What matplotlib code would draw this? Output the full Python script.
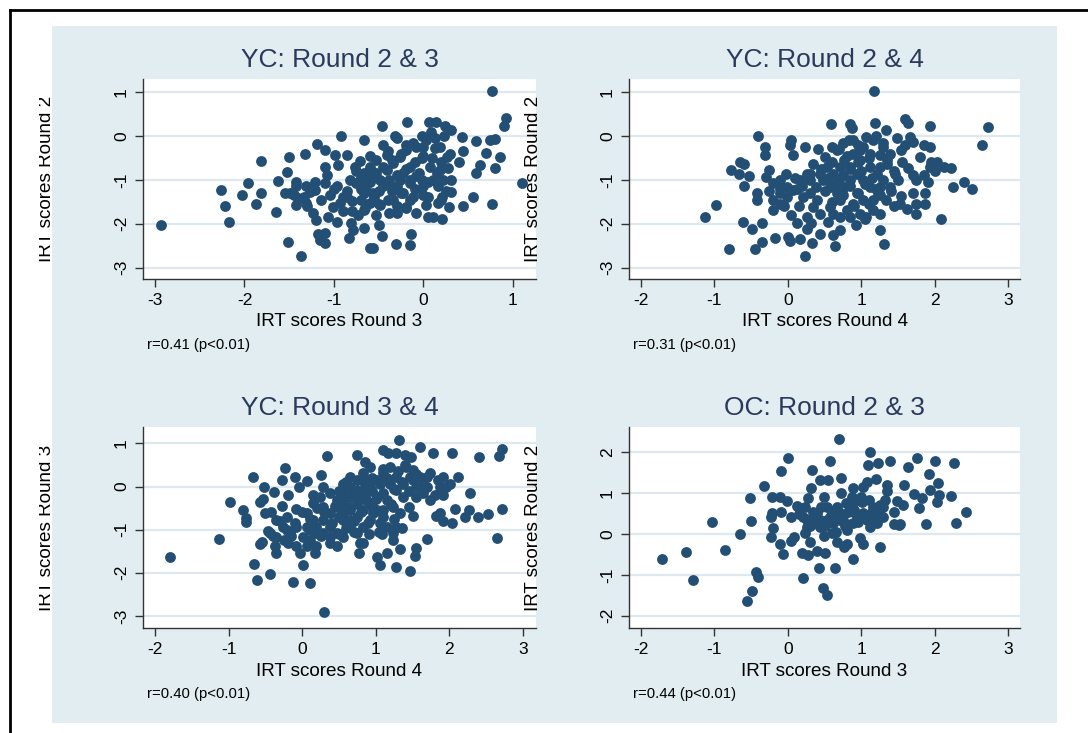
import matplotlib
matplotlib.use("Agg")
import matplotlib.pyplot as plt
from matplotlib.patches import Rectangle
from matplotlib.lines import Line2D

plt.rcParams['font.family'] = ['Liberation Sans', 'DejaVu Sans']

# ---- data ----
yc23_x = [0.77, -2.93, 1.10, 0.92, 0.90, -2.26, -2.22, -2.17, -2.03, -1.96, -1.81, -1.82, -1.87, -1.65, -1.63,
          -1.53, -1.50, -1.51, -1.37, -1.32, -1.19, -1.10, -0.92, -0.46, -0.18, 0.06, 0.14, 0.24, 0.31, 0.23,
          0.43, 0.59, 0.74, 0.80, 0.44, 0.40, 0.63, 0.59, 0.80, 0.85, 0.70, 0.55, 0.44, 0.76, 0.29,
          0.21, 0.11, 0.05, -0.14, -0.15, -0.31, -0.46, -0.50, -0.60, -0.56, -0.66, -0.79, -0.81, -0.83, -0.97,
          -1.10, -1.16, -1.10, -1.18, -1.20, -1.23, -1.07, -0.90, -0.80, -1.10, -1.08, -0.99, -0.86, -0.77, -0.71,
          -0.66, -0.45, -0.32, -0.12, -0.08, 0.03, 0.13, -0.02, 0.07, 0.18, 0.27, 0.31, 0.31, 0.21, 0.16,
          0.05, 0.03, -0.08, -0.19, -0.30, -0.38, -0.49, -0.60, -0.67, -0.73, -0.53, -1.49, -1.42, -1.34, -1.27,
          -1.42, -1.42, -1.31, -1.21, -1.55, -1.21, -1.31, -1.40, -1.05, -0.97, -0.93, -1.01, -0.86, -0.82, -0.71,
          -0.64, -0.56, -0.45, -0.38, -0.30, -0.23, -0.15, -0.08, 0.00, 0.11, 0.16, -0.12, -0.34, -0.41, -0.34,
          -0.26, -0.19, -0.15, -0.23, -0.53, -0.60, -0.53, -0.41, -0.67, -0.75, -0.67, -0.60, -0.49, -0.26, -0.19,
          -0.02, 0.22, 0.26, 0.18, 0.13, -0.02,
          -0.70, -0.60, -0.50, -0.40, -0.30, -0.20, -0.10, 0.00, -0.35, -0.25, -0.45, -0.55, -0.65, -0.75, -0.85,
          -0.90, -0.70, -0.55, -0.40, -0.25, -0.10, 0.05, 0.15, 0.20, 0.10, -0.05, -0.15, -0.35, -0.50, -0.65,
          -0.30, -0.15, 0.00, 0.25, -1.00, -1.15, -1.25, -0.95, -0.60, -0.40, -0.20, 0.00, 0.30, 0.20, -0.80,
          -1.30, -1.45, -1.10, -0.30, 0.08]
yc23_y = [1.03, -2.03, -1.06, 0.42, 0.22, -1.23, -1.59, -1.95, -1.34, -1.08, -0.57, -1.29, -1.55, -1.73, -1.03,
          -0.83, -0.47, -2.41, -2.73, -0.41, -0.19, -0.32, 0.01, 0.22, 0.31, 0.32, 0.32, 0.23, 0.14, -0.01,
          -0.03, -0.11, -0.09, -0.06, -0.34, -0.60, -0.66, -0.85, -0.73, -0.47, -0.39, -1.40, -1.59, -1.55, -1.61,
          -1.89, -1.84, -1.84, -2.24, -2.48, -2.46, -2.29, -2.03, -2.56, -2.56, -2.09, -2.14, -1.99, -2.33, -1.97,
          -2.44, -2.37, -2.22, -2.23, -1.91, -1.76, -1.84, -1.70, -1.49, -1.08, -0.89, -0.43, -0.43, -0.70, -0.58,
          -0.09, -0.20, -0.01, -0.16, -0.24, -0.09, -0.28, -0.51, -0.70, -0.77, -0.73, -1.00, -1.27, -1.38, -1.53,
          -1.38, -1.57, -1.76, -1.65, -1.76, -1.76, -1.57, -1.53, -1.68, -1.80, -1.80, -1.30, -1.57, -1.38, -1.27,
          -1.15, -1.04, -1.15, -1.04, -1.30, -1.23, -1.53, -1.42, -1.34, -1.15, -1.53, -1.61, -1.38, -1.00, -1.00,
          -1.15, -1.30, -1.15, -1.00, -1.15, -1.30, -1.08, -0.92, -1.15, -1.00, -1.15, -1.38, -1.46, -0.77, -0.62,
          -0.47, -0.32, -0.70, -0.85, -0.85, -0.70, -0.54, -0.43, -0.85, -1.08, -1.30, -1.00, -1.00, -1.00, -1.61,
          -1.00, -1.00, -0.47, -0.24, -0.05, -0.01,
          -1.20, -1.05, -1.25, -1.10, -0.90, -0.75, -0.60, -0.45, -0.55, -0.40, -0.70, -0.85, -0.95, -0.80, -1.25,
          -1.40, -1.45, -1.40, -1.45, -1.30, -1.20, -1.05, -0.85, -0.60, -0.50, -0.85, -1.00, -1.25, -1.55, -1.65,
          -1.60, -1.45, -1.35, -1.25, -1.20, -1.45, -1.20, -0.65, -0.45, -0.35, -0.20, -0.25, -0.40, -1.45, -1.70,
          -1.60, -1.35, -0.70, -0.05, 0.10]

yc24_x = [1.17, -1.13, -0.98, -0.80, -0.41, -0.31, -0.31, -0.77, -0.67, -0.65, -0.59, -0.53, -0.59, -0.61, -0.49,
          -0.44, -0.35, -0.35, -0.42, -0.42, -0.29, -0.26, -0.20, -0.18, -0.20, -0.11, -0.03, 0.04, 0.03, 0.07,
          0.01, 0.03, 0.17, 0.23, 0.33, 0.44, 0.26, 0.32, 0.26, 0.05, 0.12, 0.24, 0.41, 0.59, 0.60,
          0.62, 0.64, 0.71, 0.93, 0.85, 0.87, 0.83, 1.19, 1.34, 1.48, 1.25, 1.31, 1.59, 1.64, 1.66,
          1.71, 1.93, 1.85, 1.93, 1.80, 1.63, 1.94, 2.03, 2.12, 2.22, 2.25, 2.40, 2.51, 2.64, 2.72,
          1.75, 1.91, 1.70, 1.87, 1.75, 1.87, 1.74, 1.62, 2.08, 1.53, 1.54, 1.50, 1.46, 1.35, 1.26,
          1.12, 1.03, 0.89, 0.76, 0.67, 0.51, 0.35, 0.26, 0.17, 0.12, 0.21, 0.35, 0.44, 0.57, 0.71,
          0.80, 0.89, 0.98, 1.07, 1.16, 1.25, 1.34, 1.23, 1.12, 1.03, 0.94, 0.85, 0.76, 0.67, 0.57,
          0.48, 0.39, 0.30, 0.44, 0.53, 0.62, 0.71, 0.85, 0.98, 1.12, 1.21, 1.30, 1.39, 1.16, 1.30,
          1.39, 1.07, 0.30, -0.01, -0.11, -0.20, 0.07, -0.01, -0.11, 0.62, 0.71, 0.85, 0.94, 1.03, 1.16,
          1.25, 1.54, 0.98, 0.89,
          0.45, 0.55, 0.65, 0.75, 0.85, 0.95, 1.05, 1.15, 1.25, 1.35, 1.45, 1.10, 0.95, 0.80, 0.70,
          0.60, 0.50, 0.40, 0.60, 0.75, 0.90, 1.10, 1.25, 1.40, 1.20, 1.00, 0.85, 0.70, 0.30, 0.20,
          0.10, -0.10, -0.25, 1.55, 1.60, 1.30, 1.20, 0.95, 0.75, 1.45, 1.05, 0.55, 0.15, -0.05, 1.70,
          1.85, 2.00, 1.95]
yc24_y = [1.02, -1.84, -1.58, -2.58, 0.00, -0.25, -0.44, -0.77, -0.87, -0.59, -0.64, -0.91, -1.14, -1.95, -2.11,
          -2.57, -2.41, -1.99, -1.46, -1.31, -0.93, -0.78, -1.08, -2.33, -1.69, -1.31, -0.86, -0.08, -0.20, -0.44,
          -2.30, -2.39, -2.35, -2.73, -2.45, -2.24, -2.12, -1.99, -1.84, -1.80, -1.99, -0.25, -0.30, 0.28, -0.25,
          -2.26, -2.50, -2.14, -2.04, 0.28, 0.19, -0.10, 0.30, 0.13, -0.04, -2.14, -2.46, 0.38, 0.30, -0.02,
          -0.14, 0.22, -0.20, -0.25, -0.48, -0.74, -0.70, -0.59, -0.70, -0.74, -1.16, -1.05, -1.20, -0.20, 0.20,
          -1.01, -1.05, -1.29, -1.31, -1.54, -1.56, -1.77, -1.67, -1.89, -1.54, -1.37, -1.01, -0.86, -0.63, -0.44,
          -0.40, -0.25, -0.40, -0.55, -0.33, -0.48, -0.63, -0.86, -1.01, -1.20, -1.39, -1.61, -1.77, -1.61, -1.46,
          -1.69, -1.54, -1.77, -1.84, -1.69, -1.77, -1.46, -1.31, -1.16, -1.01, -0.86, -1.01, -1.16, -1.31, -1.16,
          -1.01, -1.16, -1.31, -0.86, -0.70, -0.86, -0.70, -0.70, -0.55, -0.70, -0.86, -1.01, -1.16, -0.10, -0.25,
          -0.40, -0.02, -0.86, -1.39, -1.54, -1.46, -1.24, -1.16, -1.01, -1.77, -1.84, -1.84, -1.31, -1.46, -1.46,
          -1.16, -0.33, -0.33, -0.10,
          -0.75, -0.95, -1.10, -0.90, -1.15, -1.30, -1.10, -0.95, -0.70, -0.55, -0.80, -0.50, -0.60, -0.45, -0.30,
          -0.60, -1.25, -1.45, -1.50, -1.35, -1.60, -1.55, -1.35, -1.25, -1.20, -0.80, -0.75, -1.00, -1.00, -1.15,
          -0.95, -1.20, -1.25, -0.60, -0.20, -0.15, 0.00, -0.20, -0.15, -1.60, -1.90, -1.95, -1.60, -1.60, -0.90,
          -0.90, -0.80, -0.60]

yc34_x = [-1.79, -1.13, -0.98, -0.81, -0.76, -0.76, -0.67, -0.52, -0.57, -0.53, -0.50, -0.43, -0.65, -0.61, -0.44,
          -0.58, -0.55, -0.47, -0.37, -0.35, -0.27, -0.24, -0.39, -0.19, -0.28, -0.21, -0.12, -0.10, -0.05, -0.08,
          0.01, 0.10, 0.07, 0.26, 0.33, 0.28, 0.30, -0.08, -0.03, 0.06, 0.17, 0.19, 0.10, 0.01, -0.08,
          -0.17, -0.26, -0.35, -0.35, -0.19, -0.44, 0.06, 0.15, 0.06, 0.15, 0.24, 0.38, 0.47, 0.56, 0.65,
          0.74, 0.83, 0.92, 0.75, 0.85, 1.10, 1.16, 1.27, 1.32, 1.39, 1.48, 1.60, 1.77, 2.03, 2.40,
          2.72, 2.68, 2.72, 2.65, 2.52, 2.39, 2.26, 2.21, 2.28, 2.11, 2.07, 2.04, 1.91, 1.87, 1.82,
          1.91, 1.85, 1.91, 1.69, 1.60, 1.70, 1.54, 1.53, 1.46, 1.33, 1.27, 1.15, 1.05, 1.01, 1.08,
          1.04, 0.91, 0.77, 0.83, 0.79, 1.50, 1.45, 1.28, 1.24, 1.24, 1.33, 1.24, 1.15, 1.10, 1.01,
          0.92, 0.83, 0.74, 0.65, 0.56, 0.47, 0.47, 0.38, 0.28, 0.38, 0.28, 0.38, 0.47, 0.56, 0.65,
          0.74, 0.83, 0.92, 1.01, 1.10, 1.19, 1.28, 1.37, 1.46, 1.50, 1.55, 1.64, 1.73, 1.19, 1.28,
          1.37, 1.10, 1.01, 0.92, 0.83, 0.74, 0.65, 0.56, 0.65, 0.56, 0.83, 0.65, 0.56, 0.74, 0.87,
          0.96, 1.05, 1.15, 0.28, 0.19, 0.19, 0.38, 1.87, 2.01, 1.55, 1.64, 1.73, 1.41, 1.50,
          0.45, 0.55, 0.65, 0.75, 0.85, 0.95, 1.05, 1.15, 1.25, 1.35, 1.20, 1.10, 0.95, 0.80, 0.70,
          0.60, 0.50, 0.40, 0.30, 0.20, 0.10, 0.00, -0.10, -0.20, -0.30, -0.40, -0.25, -0.15, 0.10, 0.25,
          0.50, 0.70, 0.90, 1.00, 0.85, 0.70, 0.60, 0.50, 1.30, 1.40, 1.55, 1.70, 1.80, 1.95, 1.45,
          1.10, 0.95, 1.25, 1.35, 0.15]
yc34_y = [-1.63, -1.22, -0.37, -0.54, -0.72, -0.83, 0.21, -0.02, -0.37, -0.29, -0.62, -0.60, -1.80, -2.17, -2.03,
          -1.34, -1.29, -1.02, -1.39, -1.53, 0.15, 0.44, -0.12, -0.20, -0.45, -0.71, -2.22, 0.21, 0.00, -0.51,
          -1.83, -2.24, 0.13, 0.27, 0.71, -0.02, -2.92, -1.39, -1.55, -1.39, -1.55, -1.39, -1.24, -1.16, -0.93,
          -1.08, -0.93, -0.78, -1.16, -1.32, -1.08, -0.93, -0.78, -0.62, -0.39, -0.24, -0.16, -0.31, -0.16, 0.00,
          0.15, 0.31, 0.46, 0.73, 0.58, 0.85, 0.78, 0.78, 1.09, 0.73, 0.68, 0.91, 0.77, 0.78, 0.68,
          0.88, 0.71, -0.53, -1.19, -0.64, -0.70, -0.54, -0.71, -0.15, 0.23, -0.52, -0.84, -0.81, -0.62, -0.68,
          -0.20, 0.15, 0.23, 0.23, 0.23, -1.22, -1.43, -1.60, -1.96, -1.45, -1.87, -1.55, -1.82, -1.63, -1.11,
          -1.06, -1.10, -1.53, -1.30, -1.32, -0.68, -0.47, -0.93, -1.08, -1.24, -0.62, -0.47, -0.31, -0.70, -0.54,
          -0.78, -0.93, -1.08, -0.93, -1.16, -1.08, -1.39, -1.32, -1.08, -0.93, -0.78, -0.62, -0.47, -0.62, -0.47,
          -0.31, -0.16, 0.00, 0.15, 0.31, 0.46, 0.23, 0.07, 0.23, 0.38, 0.00, -0.16, -0.31, 0.07, -0.08,
          -0.24, -0.16, -0.24, -0.39, -0.54, -0.70, -0.78, -0.78, -0.24, -0.39, 0.15, 0.23, 0.07, -0.08, -0.31,
          -0.62, -0.85, -0.93, -0.47, -0.93, -1.08, -1.16, 0.00, 0.07, -0.24, 0.07, 0.31, 0.46, 0.15,
          -0.45, -0.30, -0.55, -0.40, -0.25, -0.10, 0.05, 0.20, -0.05, 0.10, -0.40, -0.55, -0.45, -0.60, -0.80,
          -0.95, -0.70, -0.85, -0.60, -0.50, -0.75, -0.60, -0.85, -1.00, -0.80, -1.15, -1.25, -1.15, -1.00, -1.15,
          -1.10, -1.05, -0.85, -0.30, 0.05, -0.15, 0.10, -0.10, 0.35, 0.50, 0.30, 0.00, -0.20, 0.00, -0.10,
          0.40, 0.20, -0.75, -0.95, -0.20]

oc23_x = [-1.71, -1.39, -1.29, -1.03, -0.85, -0.65, -0.52, -0.50, -0.43, -0.41, -0.48, -0.55, -0.32, -0.21, -0.09,
          0.00, -0.11, -0.01, -0.23, -0.21, -0.20, -0.23, -0.11, -0.07, -0.09, 0.05, 0.12, 0.05, 0.09, 0.21,
          0.20, 0.27, 0.30, 0.23, 0.21, 0.23, 0.28, 0.31, 0.33, 0.44, 0.55, 0.58, 0.70, 0.72, 0.34,
          0.34, 0.40, 0.42, 0.51, 0.48, 0.53, 0.64, 0.49, 0.60, 0.67, 0.80, 0.89, 0.98, 1.02, 1.25,
          0.94, 0.78, 0.82, 0.79, 0.73, 0.67, 0.58, 0.49, 0.40, 0.53, 0.62, 0.89, 0.87, 1.03, 1.08,
          1.12, 1.09, 1.23, 1.20, 1.35, 1.35, 1.39, 1.01, 1.10, 1.03, 1.16, 1.25, 1.32, 1.23, 1.16,
          1.30, 1.21, 1.44, 1.53, 1.51, 1.48, 1.57, 1.58, 1.63, 1.76, 1.72, 1.83, 1.79, 1.92, 1.94,
          2.00, 2.05, 2.06, 2.03, 1.88, 2.22, 2.26, 2.29, 2.43, 0.89, 0.80, 0.71, 0.92, 0.71, 0.44,
          0.30, 0.26, 0.44, 0.53, 0.62, 0.89, 1.12, 1.08, 0.76, 0.26,
          0.45, 0.60, 0.75, 0.90, 1.00, 1.15, 0.35, 0.50, 0.65, 1.30, 1.45, 0.80, 0.95, 0.30, 0.15]
oc23_y = [-0.60, -0.43, -1.13, 0.29, -0.38, 0.00, 0.87, 0.32, -0.94, -1.04, -1.39, -1.63, 1.18, 0.90, 1.55,
          1.87, 0.90, 0.82, 0.42, 0.51, 0.16, -0.08, -0.24, -0.48, 0.55, 0.42, 0.69, -0.16, -0.08, -1.07,
          -0.47, -0.51, -0.20, 0.02, 0.42, 0.67, 0.87, 1.13, 1.57, 1.32, 1.32, 1.80, 2.32, 1.36, 0.55,
          0.27, -0.42, -0.84, -0.46, -1.33, -1.48, -0.84, -0.06, 0.02, -0.20, -0.24, -0.60, -0.10, -0.24, -0.31,
          0.35, 0.19, 0.55, 0.75, 1.00, 0.67, 0.42, 0.91, 0.51, 0.67, 0.27, 1.13, 0.91, 1.16, 1.28,
          2.02, 1.69, 1.73, 1.35, 1.20, 1.06, 1.79, 0.79, 0.83, 0.51, 0.67, 0.71, 0.83, 0.55, 0.42,
          0.42, 0.27, 0.24, 0.24, 0.21, 0.82, 0.71, 1.20, 1.65, 1.85, 0.98, 0.87, 0.63, 1.46, 1.08,
          1.79, 1.24, 0.96, 0.79, 0.24, 0.93, 1.75, 0.26, 0.55, 0.27, 0.11, 0.34, 0.51, 0.51, 0.18,
          0.34, 0.18, 0.34, 0.34, 0.51, 0.75, 0.18, 0.35, -0.31, 0.34,
          0.65, 0.55, 0.45, 0.60, 0.90, 0.55, 0.45, 0.20, 0.05, 0.65, 0.55, 0.25, 0.30, 0.20, 0.50]

panels = [
    dict(title="YC: Round 2 & 3", x=yc23_x, y=yc23_y, xlab="IRT scores Round 3", ylab="IRT scores Round 2",
         note="r=0.41 (p<0.01)", xticks=[-3, -2, -1, 0, 1], yticks=[1, 0, -1, -2, -3]),
    dict(title="YC: Round 2 & 4", x=yc24_x, y=yc24_y, xlab="IRT scores Round 4", ylab="IRT scores Round 2",
         note="r=0.31 (p<0.01)", xticks=[-2, -1, 0, 1, 2, 3], yticks=[1, 0, -1, -2, -3]),
    dict(title="YC: Round 3 & 4", x=yc34_x, y=yc34_y, xlab="IRT scores Round 4", ylab="IRT scores Round 3",
         note="r=0.40 (p<0.01)", xticks=[-2, -1, 0, 1, 2, 3], yticks=[1, 0, -1, -2, -3]),
    dict(title="OC: Round 2 & 3", x=oc23_x, y=oc23_y, xlab="IRT scores Round 3", ylab="IRT scores Round 2",
         note="r=0.44 (p<0.01)", xticks=[-2, -1, 0, 1, 2, 3], yticks=[2, 1, 0, -1, -2]),
]

# ---- layout (pixels) ----
W, H = 1088, 733
boxes = [(143, 79, 536, 279), (629, 79, 1020, 279), (143, 427, 536, 628), (629, 427, 1020, 628)]
xlims = [(-3.134, 1.257), (-2.16, 3.16), (-2.163, 3.176), (-2.16, 3.16)]
ylims = [(-3.26, 1.30), (-3.26, 1.30), (-3.28, 1.38), (-2.30, 2.62)]

navy = "#244f75"
title_col = "#2b3a5c"
bg = "#e1edf0"
grid_col = "#dde9ee"

fig = plt.figure(figsize=(W / 100, H / 100), dpi=100)
fig.patch.set_facecolor("white")
fig.add_artist(Rectangle((52 / W, 1 - 723 / H), (1057 - 52) / W, (723 - 26) / H,
                         transform=fig.transFigure, facecolor=bg, edgecolor="none", zorder=-10))

for i, (p, b) in enumerate(zip(panels, boxes)):
    x0, y0, x1, y1 = b
    ax = fig.add_axes([x0 / W, 1 - y1 / H, (x1 - x0) / W, (y1 - y0) / H])
    ax.set_facecolor("white")
    ax.plot(p["x"], p["y"], "o", color=navy, ms=7.8, mew=0, zorder=3)
    ax.set_xlim(*xlims[i])
    ax.set_ylim(*ylims[i])
    ax.set_xticks(p["xticks"])
    ax.set_yticks(p["yticks"])
    ax.set_xticklabels([str(t) for t in p["xticks"]])
    ax.set_yticklabels([str(t) for t in p["yticks"]], rotation=90, va="center")
    ax.grid(axis="y", color=grid_col, lw=1.6)
    ax.set_axisbelow(True)
    for s in ["top", "right"]:
        ax.spines[s].set_visible(False)
    for s in ["left", "bottom"]:
        ax.spines[s].set_color("#333333")
        ax.spines[s].set_linewidth(1.0)
    ax.tick_params(length=6, width=1, color="#333333", labelsize=12.5, pad=4, labelcolor="black")

    cx = (x0 + x1) / 2
    fig.text(cx / W, 1 - (y0 - 19) / H, p["title"], ha="center", va="center", fontsize=19, color=title_col)
    fig.text(cx / W, 1 - (y1 + 43) / H, p["xlab"], ha="center", va="center", fontsize=13.6)
    fig.text((x0 + 4) / W, 1 - (y1 + 66) / H, p["note"], ha="left", va="center", fontsize=10.7)
    ylab_x = 47 if x0 < 300 else 533
    fig.text(ylab_x / W, 1 - ((y0 + y1) / 2) / H, p["ylab"], rotation=90, ha="center", va="center",
             fontsize=13.6, zorder=5)

# left labels are cut at their top edge
fig.add_artist(Rectangle((11 / W, 0), (39 - 11) / W, 1, transform=fig.transFigure,
                         facecolor="white", edgecolor="none", zorder=8))
# outer frame (left and top edges)
fig.add_artist(Line2D([10 / W, 10 / W], [0, 1 - 10 / H], transform=fig.transFigure, color="black", lw=2, zorder=9))
fig.add_artist(Line2D([10 / W, 1], [1 - 10 / H, 1 - 10 / H], transform=fig.transFigure, color="black", lw=2, zorder=9))

fig.savefig("out.png", dpi=100)
